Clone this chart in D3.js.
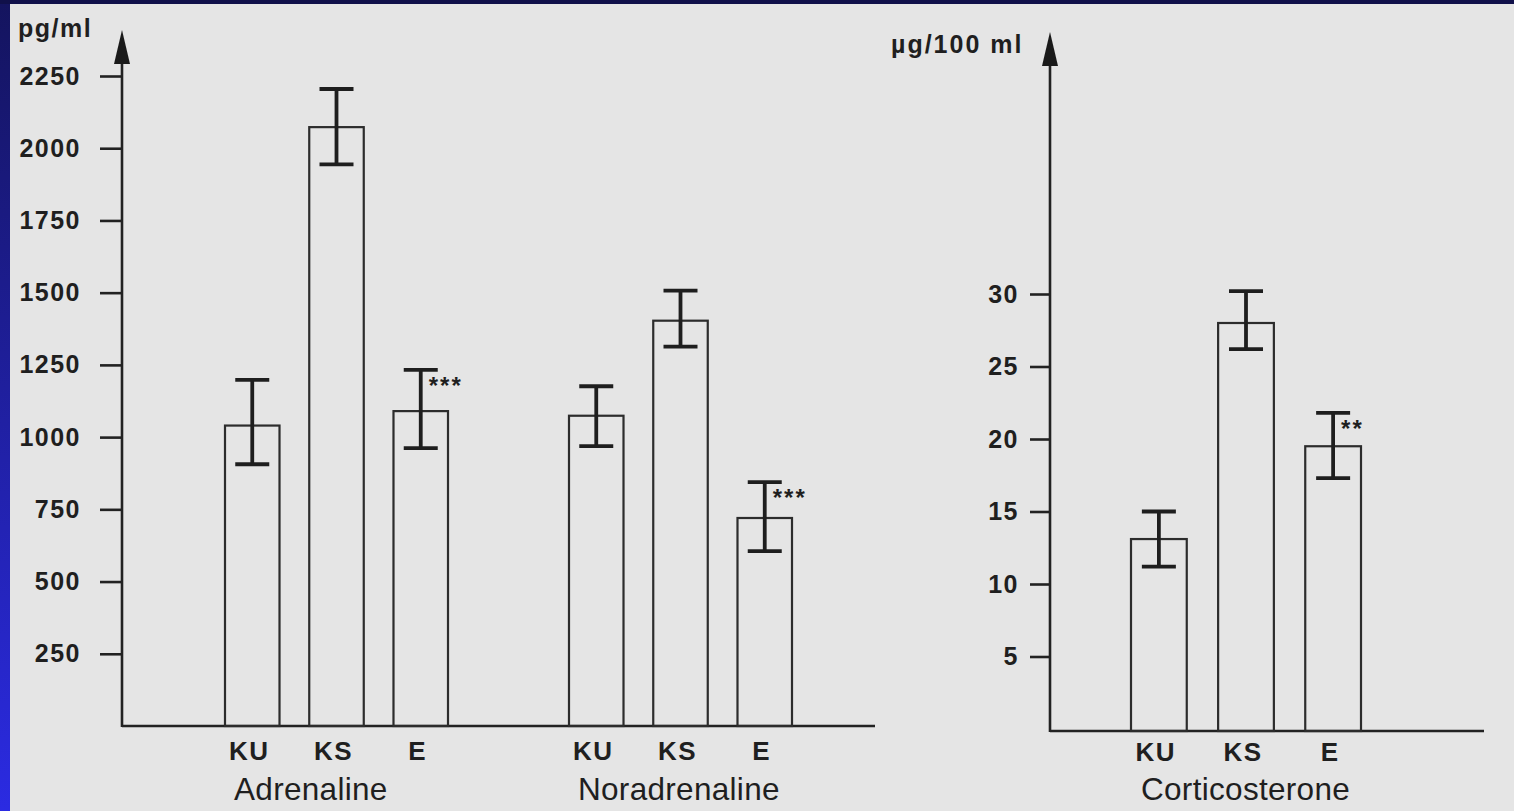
<!DOCTYPE html>
<html>
<head>
<meta charset="utf-8">
<script src="https://cdn.jsdelivr.net/npm/d3@7"></script>
<style>
  body { margin: 0; background: #e5e5e5; }
  text { font-family: "Liberation Sans", Arial, sans-serif; fill: #1f1f1f; }
</style>
</head>
<body>
<div id="chart-area"></div>
<script>
// categories
var groups = ["Adrenaline", "Noradrenaline"]
var conds = ["KU", "KS", "E"]

// catecholamines, pg/ml (mean, top and bottom of error bar)
var adrMean = [1040, 2073, 1090]
var adrHi = [1198, 2205, 1233]
var adrLo = [906, 1944, 962]
var norMean = [1074, 1403, 720]
var norHi = [1176, 1507, 844]
var norLo = [969, 1313, 605]
var catSig = ["", "", "***"]

// corticosterone, ug/100 ml
var corMean = [13.1, 28.0, 19.5]
var corHi = [15.0, 30.2, 21.8]
var corLo = [11.2, 26.2, 17.3]
var corSig = ["", "", "**"]

var leftTicks = [250, 500, 750, 1000, 1250, 1500, 1750, 2000, 2250]
var rightTicks = [5, 10, 15, 20, 25, 30]

var W = 1514, H = 811
var ink = "#222"

var svg = d3.select("#chart-area").append("svg")
  .attr("width", W)
  .attr("height", H)

// slide frame
var grad = svg.append("defs").append("linearGradient")
  .attr("id", "frame").attr("x1", 0).attr("y1", 0).attr("x2", 0).attr("y2", 1)
grad.append("stop").attr("offset", "0%").attr("stop-color", "#14145e")
grad.append("stop").attr("offset", "100%").attr("stop-color", "#2b2be2")

svg.append("rect").attr("width", W).attr("height", H).attr("fill", "#e5e5e5")
svg.append("rect").attr("x", 0).attr("y", 0).attr("width", 10).attr("height", H).attr("fill", "url(#frame)")
svg.append("rect").attr("x", 0).attr("y", 0).attr("width", W).attr("height", 4).attr("fill", "#10104a")

// build rows
var catRows = []
groups.forEach(function (g, gi) {
  var m = gi === 0 ? adrMean : norMean
  var hi = gi === 0 ? adrHi : norHi
  var lo = gi === 0 ? adrLo : norLo
  conds.forEach(function (c, i) {
    catRows.push({ group: g, cond: c, mean: m[i], hi: hi[i], lo: lo[i], sig: catSig[i] })
  })
})
var corRows = conds.map(function (c, i) {
  return { cond: c, mean: corMean[i], hi: corHi[i], lo: corLo[i], sig: corSig[i] }
})

// scales
var x0 = d3.scaleBand().domain(groups).range([225, 913])
var x1 = d3.scaleBand().domain(conds).range([0, 223]).paddingInner(0.353)
var yL = d3.scaleLinear().domain([0, 2250]).range([726, 76])

var xc = d3.scaleBand().domain(conds).range([1131, 1361]).paddingInner(0.36)
var yR = d3.scaleLinear().domain([0, 30]).range([729, 294])

var capW = 34

function drawAxis(g, axisX, baseY, tipY, rightEnd, scale, ticks, tickSize, pad) {
  var ax = g.append("g")
    .attr("transform", "translate(" + axisX + ",0)")
    .call(d3.axisLeft(scale).tickValues(ticks).tickSize(tickSize).tickPadding(pad).tickFormat(d3.format("d")))
  ax.select(".domain").remove()
  ax.selectAll(".tick line").attr("stroke", ink).attr("stroke-width", 2.6)
  ax.selectAll(".tick text")
    .attr("font-size", 25).attr("font-weight", "bold")
    .attr("letter-spacing", 1.5).attr("fill", "#1f1f1f")
    .attr("font-family", "'Liberation Sans', Arial, sans-serif")

  // vertical axis with arrow head
  g.append("line")
    .attr("x1", axisX).attr("x2", axisX)
    .attr("y1", baseY + 1).attr("y2", tipY + 20)
    .attr("stroke", ink).attr("stroke-width", 2.6)
  g.append("path")
    .attr("d", "M" + axisX + "," + tipY + " L" + (axisX - 8) + "," + (tipY + 34) +
      " L" + (axisX + 8) + "," + (tipY + 34) + "Z")
    .attr("fill", "#1a1a1a")
  // baseline
  g.append("line")
    .attr("x1", axisX).attr("x2", rightEnd)
    .attr("y1", baseY).attr("y2", baseY)
    .attr("stroke", ink).attr("stroke-width", 2.6)
}

function drawBars(g, rows, xpos, bw, y, baseY, labelDy) {
  var bars = g.selectAll(".bar").data(rows).enter().append("g")

  bars.append("rect")
    .attr("x", function (d) { return xpos(d) })
    .attr("y", function (d) { return y(d.mean) })
    .attr("width", bw)
    .attr("height", function (d) { return baseY - y(d.mean) })
    .attr("fill", "none")
    .attr("stroke", "#2c2c2c")
    .attr("stroke-width", 2.2)

  // error bars
  bars.append("line")
    .attr("x1", function (d) { return xpos(d) + bw / 2 })
    .attr("x2", function (d) { return xpos(d) + bw / 2 })
    .attr("y1", function (d) { return y(d.hi) })
    .attr("y2", function (d) { return y(d.lo) })
    .attr("stroke", "#1e1e1e").attr("stroke-width", 3.8)
  bars.selectAll(".cap")
    .data(function (d) { return [d.hi, d.lo].map(function (v) { return { v: v, p: d } }) })
    .enter().append("line")
    .attr("x1", function (c) { return xpos(c.p) + bw / 2 - capW / 2 })
    .attr("x2", function (c) { return xpos(c.p) + bw / 2 + capW / 2 })
    .attr("y1", function (c) { return y(c.v) })
    .attr("y2", function (c) { return y(c.v) })
    .attr("stroke", "#1e1e1e").attr("stroke-width", 3.8)

  bars.append("text")
    .attr("x", function (d) { return xpos(d) + bw / 2 + 8 })
    .attr("y", function (d) { return y(d.hi) + 24 })
    .attr("font-size", 24).attr("font-weight", "bold")
    .attr("letter-spacing", 2)
    .text(function (d) { return d.sig })

  // condition labels
  bars.append("text")
    .attr("x", function (d) { return xpos(d) + bw / 2 - 3 })
    .attr("y", baseY + labelDy)
    .attr("text-anchor", "middle")
    .attr("font-size", 26).attr("font-weight", "bold")
    .attr("letter-spacing", 1.5)
    .text(function (d) { return d.cond })
}

// left panel: catecholamines
var left = svg.append("g")
drawAxis(left, 122, yL(0), 30, 875, yL, leftTicks, 22, 19)
drawBars(left, catRows, function (d) { return x0(d.group) + x1(d.cond) }, x1.bandwidth(), yL, yL(0), 34)

left.selectAll(".glabel").data(groups).enter().append("text")
  .attr("x", function (g) { return x0(g) + x1("KU") + 9 })
  .attr("y", 800)
  .attr("font-size", 31.5)
  .attr("letter-spacing", 0.3)
  .text(function (g) { return g })

left.append("text")
  .attr("x", 18).attr("y", 37)
  .attr("font-size", 25).attr("font-weight", "bold").attr("letter-spacing", 1.5)
  .text("pg/ml")

// right panel: corticosterone
var right = svg.append("g")
drawAxis(right, 1050, yR(0) + 2, 32, 1484, yR, rightTicks, 20, 11)
drawBars(right, corRows, function (d) { return xc(d.cond) }, xc.bandwidth(), yR, yR(0) + 2, 30)

right.append("text")
  .attr("x", xc("KU") + 10)
  .attr("y", 800)
  .attr("font-size", 31.5)
  .attr("letter-spacing", 0.3)
  .text("Corticosterone")

right.append("text")
  .attr("x", 891).attr("y", 53)
  .attr("font-size", 25).attr("font-weight", "bold").attr("letter-spacing", 2)
  .text("\u00b5g/100 ml")
</script>
</body>
</html>
